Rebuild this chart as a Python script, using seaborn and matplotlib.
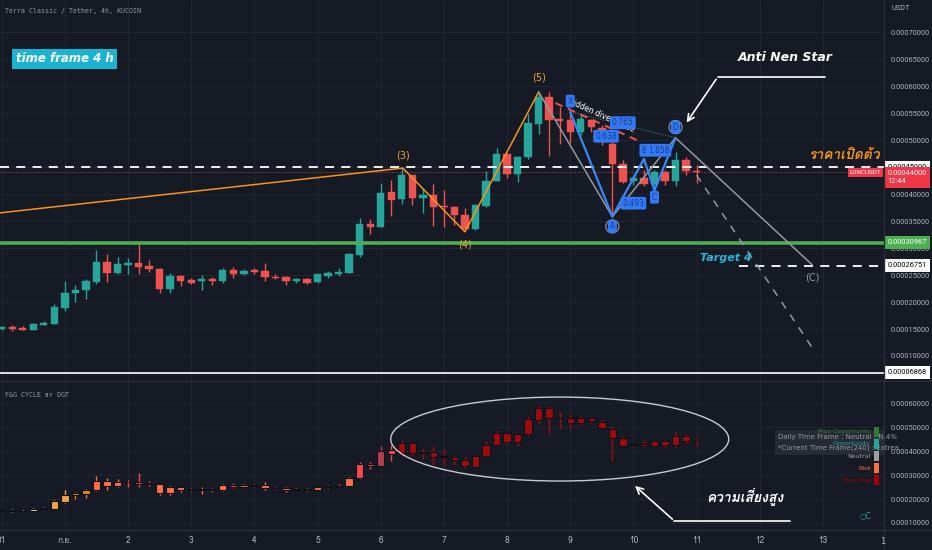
import matplotlib
matplotlib.use("Agg")
import numpy as np
import matplotlib.pyplot as plt
from matplotlib import font_manager
from matplotlib.ft2font import FT2Font
from matplotlib.patches import Ellipse, Rectangle
from matplotlib.lines import Line2D
import seaborn as sns

# 4h candles LUNC/USDT, prices in 1e-5 USDT (31 Aug .. 11 Sep)
opens = [15.0, 15.4, 15.2, 14.9, 15.8, 16.0, 18.9, 21.6, 22.2, 23.7,
         27.5, 25.4, 26.9, 27.3, 26.6, 26.2, 22.5, 24.9, 24.0, 23.8,
         24.3, 23.9, 25.9, 25.1, 25.9, 25.7, 24.7, 24.6, 23.8, 24.3,
         23.7, 24.9, 25.2, 25.4, 28.7, 34.4, 33.9, 40.4, 39.0, 43.5,
         39.2, 39.8, 37.8, 37.65, 36.2, 33.5, 37.8, 42.5, 47.4, 43.7,
         46.9, 53.0, 57.9, 53.8, 53.7, 51.5, 53.7, 52.2, 49.3, 45.6,
         42.4, 42.9, 41.9, 44.1, 42.5, 46.3, 44.3]
highs = [15.6, 15.7, 15.6, 16.1, 16.5, 19.6, 23.8, 23.1, 24.3, 29.6,
         28.9, 28.4, 28.1, 30.7, 27.7, 26.3, 25.4, 25.0, 24.5, 25.0,
         24.7, 26.3, 26.5, 26.1, 26.3, 27.2, 25.2, 24.9, 24.5, 24.4,
         25.2, 25.8, 26.3, 29.1, 35.6, 35.4, 42.0, 42.6, 44.8, 43.6,
         41.1, 41.9, 40.7, 37.8, 37.5, 38.1, 44.3, 48.6, 47.5, 47.0,
         54.8, 58.9, 58.9, 56.2, 55.6, 54.6, 53.9, 52.8, 50.6, 46.3,
         43.5, 44.4, 44.4, 44.4, 47.8, 46.9, 45.4]
lows = [14.8, 14.6, 14.8, 14.8, 15.7, 15.9, 18.4, 20.0, 20.6, 23.3,
        23.7, 25.1, 25.1, 25.2, 25.6, 21.6, 21.7, 23.0, 23.3, 22.2,
        23.1, 23.5, 24.5, 25.0, 25.2, 23.8, 24.2, 23.1, 23.6, 23.4,
        23.6, 24.4, 24.9, 25.3, 28.4, 32.6, 33.8, 35.9, 38.1, 38.0,
        36.5, 34.1, 33.9, 34.3, 33.1, 33.4, 37.6, 42.4, 42.9, 42.3,
        46.4, 51.2, 47.0, 49.3, 49.4, 50.9, 51.5, 49.1, 35.8, 42.0,
        41.7, 41.5, 41.7, 41.7, 41.5, 43.5, 42.0]
closes = [15.4, 14.95, 14.9, 15.9, 16.1, 19.1, 21.7, 22.3, 23.9, 27.5,
          25.4, 27.0, 27.3, 26.4, 26.05, 22.5, 24.9, 23.8, 23.6, 24.2,
          23.9, 25.9, 25.2, 25.8, 25.5, 24.6, 24.4, 23.8, 24.3, 23.6,
          25.1, 25.4, 25.6, 28.8, 34.4, 33.9, 40.2, 38.9, 43.5, 39.3,
          39.8, 37.6, 37.6, 36.1, 33.6, 38.0, 42.5, 47.4, 43.7, 46.9,
          53.2, 57.9, 53.7, 53.6, 51.5, 53.8, 52.4, 49.7, 45.6, 42.3,
          42.9, 41.9, 44.1, 42.5, 46.3, 44.3, 44.0]

# F&G cycle zone of each candle (lower pane)
zones = (["pale"] * 5 + ["orange", "orange", "dorange", "dorange"]
         + ["coral"] * 3 + ["red"] * 3 + ["coral"] * 3
         + ["dorange", "coral", "red", "coral", "red", "coral", "dred",
            "coral", "red", "coral", "coral", "coral", "coral", "red",
            "red", "coral", "red", "red", "dred", "red"]
         + ["maxrisk"] * 29)
zone_colors = {"pale": "#f3d3b0", "orange": "#f7a23e", "dorange": "#d98a1c",
               "coral": "#ff7043", "red": "#f5474f", "dred": "#b5404a",
               "maxrisk": "#9c0c0c"}

day_labels = ["31", "ก.ย.", "2", "3", "4", "5", "6", "7", "8", "9",
              "10", "11", "12", "13"]
main_ticks = [10, 15, 20, 25, 30, 35, 40, 45, 50, 55, 60, 65, 70]
sub_ticks = [10, 20, 30, 40, 50, 60]

# horizontal levels (1e-5 USDT)
open_level = 45.0
last_price = 44.0
support = 30.967
target = 26.751
bottom_line = 6.868

# elliott wave (3)-(4)-(5)
wave_x = [-0.2, 38.1, 44.0, 51.0]
wave_y = [36.5, 44.8, 33.0, 58.9]
# harmonic X A B C D
harm_names = ["X", "A", "B", "C", "D"]
harm_x = [54, 58, 61, 62, 64]
harm_y = [55.2, 35.8, 46.5, 40.7, 50.4]
# grey projection (5) -> A -> D -> (C)
proj_x = [51, 58, 64, 77]
proj_y = [58.9, 35.8, 50.4, 26.85]

bg = "#161a25"
sns.set_theme(style="dark", rc={"axes.facecolor": bg, "figure.facecolor": bg,
                                "axes.edgecolor": bg, "text.color": "#b2b5be",
                                "xtick.color": "#b2b5be", "ytick.color": "#b2b5be"})


def find_thai():
    for f in font_manager.fontManager.ttflist:
        try:
            if 0x0E01 in FT2Font(f.fname).get_charmap():
                return f.name
        except Exception:
            pass
    return "DejaVu Sans"


thai = [find_thai(), "DejaVu Sans"]
narrow = "Roboto"
fs_axis = 5.3
plt.rcParams["font.family"] = ["DejaVu Sans"]

W, H = 932, 550
fig = plt.figure(figsize=(W / 100, H / 100), dpi=100)
ax = fig.add_axes([0, 1 - 381 / H, 884 / W, 381 / H])
ax2 = fig.add_axes([0, 20 / H, 884 / W, 149 / H], sharex=ax)


def px(x, y):
    return x / W, 1 - y / H


def draw_candles(a, body, wick, edge, ew):
    x = np.arange(len(opens))
    o = np.array(opens) * 1e-5
    c = np.array(closes) * 1e-5
    a.vlines(x, np.array(lows) * 1e-5, np.array(highs) * 1e-5, colors=wick, lw=1, zorder=3)
    a.bar(x, np.maximum(np.abs(c - o), 0.25e-5), bottom=np.minimum(o, c), width=0.7,
          color=body, edgecolor=edge, lw=ew, zorder=4)


up = np.array(closes) >= np.array(opens)
main_col = ["#26a69a" if u else "#ef5350" for u in up]
draw_candles(ax, main_col, main_col, main_col, 0.3)
sub_col = [zone_colors[z] for z in zones]
draw_candles(ax2, sub_col, sub_col, "#0e1017", 0.8)

for a in (ax, ax2):
    a.grid(True, color="#222633", lw=0.7)
    a.set_axisbelow(True)
    a.yaxis.tick_right()
    a.tick_params(axis="y", length=0, pad=5, labelsize=fs_axis, labelcolor="#b2b5be")
    for s in a.spines.values():
        s.set_visible(False)

ax.set_xlim(-0.16, 83.8)
ax.set_ylim(5.37e-5, 75.93e-5)
ax2.set_ylim(7.08e-5, 69.2e-5)
ax.set_yticks([v * 1e-5 for v in main_ticks])
ax.set_yticklabels([f"{v * 1e-5:.8f}" for v in main_ticks], family=narrow)
ax2.set_yticks([v * 1e-5 for v in sub_ticks])
ax2.set_yticklabels([f"{v * 1e-5:.8f}" for v in sub_ticks], family=narrow)
ax2.set_xticks(range(0, 6 * len(day_labels), 6))
ax2.set_xticklabels(day_labels, family=thai)
ax2.tick_params(axis="x", length=0, pad=4, labelsize=6, labelcolor="#b2b5be")
ax.tick_params(axis="x", length=0, labelbottom=False)

# levels
ax.axhline(open_level * 1e-5, color="white", lw=1.3, ls=(0, (5, 4)), zorder=5)
ax.axhline(last_price * 1e-5, color="#ef5350", lw=0.7, ls=":", alpha=0.7, zorder=2)
ax.axhline(support * 1e-5, color="#4caf50", lw=2.6, zorder=5)
ax.hlines(target * 1e-5, 70, 84, color="white", lw=1.3, ls=(0, (5, 4)), zorder=5)
ax.axhline(bottom_line * 1e-5, color="white", lw=1.2, zorder=5)

# elliott wave
sns.lineplot(x=wave_x, y=np.array(wave_y) * 1e-5, sort=False, estimator=None,
             color="#f7931a", lw=1.1, ax=ax, zorder=6)
for lab, xi, yi in [("(3)", 38.1, 47.2), ("(4)", 44.0, 30.7), ("(5)", 51.0, 61.6)]:
    ax.text(xi, yi * 1e-5, lab, color="#f0a030", fontsize=7, ha="center", va="center", zorder=8)

# harmonic pattern
sns.lineplot(x=proj_x, y=np.array(proj_y) * 1e-5, sort=False, estimator=None,
             color="#9598a1", lw=1.1, ax=ax, zorder=6)
ax.plot([66, 77], [43.5e-5, 11.5e-5], color="#9598a1", lw=1.1, ls=(0, (5, 5)), zorder=6)
sns.lineplot(x=harm_x, y=np.array(harm_y) * 1e-5, sort=False, estimator=None,
             color="#3a86f5", lw=1.6, ax=ax, zorder=7)
ax.plot([harm_x[0], harm_x[4]], [harm_y[0] * 1e-5, harm_y[4] * 1e-5],
        color="#26a69a", lw=0.7, ls=":", zorder=6)
ax.plot([52.6, 60.3], [56.85e-5, 50.0e-5], color="#ef5350", lw=1.4, ls=(0, (4, 3)), zorder=7)
ax.text(57.0, 54.6e-5, "hidden divergence", color="white", fontsize=5.5, rotation=-24,
        ha="center", va="center", zorder=9)
ax.scatter([58, 64], [34.0e-5, 52.4e-5], s=90, facecolors="none", edgecolors="#9598a1",
           lw=0.8, zorder=8)
box = dict(boxstyle="round,pad=0.25", fc="#3179f5", ec="none")
for lab, xi, yi in zip(harm_names, harm_x, [57.2, 34.0, 48.1, 39.4, 52.4]):
    ax.text(xi, yi * 1e-5, lab, color="#1c3d8f", fontsize=5.5, ha="center", va="center",
            bbox=box, zorder=9)
for lab, xi, yi in [("0.765", 59.0, 53.2), ("0.638", 57.4, 50.7),
                    ("1.858", 62.4, 48.1), ("0.493", 60.0, 38.3)]:
    ax.text(xi, yi * 1e-5, lab, color="#1c3d8f", fontsize=5.5, ha="center", va="center",
            bbox=box, zorder=9)

# annotations
ax.text(74.4, 65.2e-5, "Anti Nen Star", color="white", fontsize=9, fontweight="bold",
        style="italic", ha="center", va="center", zorder=9)
ax.plot([78.2, 68.0], [61.67e-5, 61.67e-5], color="white", lw=1.2, zorder=8)
ax.annotate("", xy=(64.9, 52.8e-5), xytext=(68.0, 61.67e-5),
            arrowprops=dict(arrowstyle="->", color="white", lw=1.2), zorder=8)
ax.text(83.4, 47.1e-5, "ราคาเปิดตัว", color="#f7931a", fontsize=10, fontweight="bold",
        style="italic", ha="right", va="center", family=thai, zorder=9)
ax.text(66.3, 28.1e-5, "Target 4", color="#29b6d8", fontsize=8, fontweight="bold",
        style="italic", ha="left", va="center", zorder=9)
ax.text(77.0, 24.6e-5, "(C)", color="#9598a1", fontsize=7, ha="center", va="center", zorder=9)

# price tags on the right scale
tr = ax.get_yaxis_transform()
tag = dict(transform=tr, ha="left", va="center", fontsize=fs_axis, family=narrow,
           clip_on=False, zorder=10)
ax.text(1.004, open_level * 1e-5, f"{open_level * 1e-5:.8f}", color="black",
        bbox=dict(boxstyle="square,pad=0.4", fc="white", ec="none"), **tag)
ax.text(1.004, support * 1e-5, f"{support * 1e-5:.8f}", color="white",
        bbox=dict(boxstyle="square,pad=0.4", fc="#4caf50", ec="none"), **tag)
ax.text(1.004, target * 1e-5, f"{target * 1e-5:.8f}", color="black",
        bbox=dict(boxstyle="square,pad=0.4", fc="white", ec="none"), **tag)
ax.text(1.004, bottom_line * 1e-5, f"{bottom_line * 1e-5:.8f}", color="black",
        bbox=dict(boxstyle="square,pad=0.4", fc="white", ec="none"), **tag)
ax.text(1.004, last_price * 1e-5 + 0.45e-5, f"{last_price * 1e-5:.8f}\n12:44", color="white",
        transform=tr, ha="left", va="top", fontsize=fs_axis, family=narrow, clip_on=False,
        zorder=10, linespacing=1.2,
        bbox=dict(boxstyle="square,pad=0.4", fc="#f23645", ec="none"))
ax.text(0.997, last_price * 1e-5, "LUNCUSDT", color="white", transform=tr, ha="right",
        va="center", fontsize=4.6, family=narrow, zorder=10,
        bbox=dict(boxstyle="square,pad=0.3", fc="#f23645", ec="none"))

# lower pane
ax2.add_patch(Ellipse((53.0, 45.0e-5), 32.1, 35e-5, fill=False, ec="#c8cad0", lw=1, zorder=6))
ax2.plot([74.9, 63.9], [10.83e-5, 10.83e-5], color="white", lw=1.2, zorder=8)
ax2.annotate("", xy=(59.95, 26.25e-5), xytext=(63.9, 10.83e-5),
             arrowprops=dict(arrowstyle="->", color="white", lw=1.2), zorder=8)
ax2.text(70.6, 20.8e-5, "ความเสี่ยงสูง", color="white", fontsize=10, fontweight="bold",
         style="italic", ha="center", va="center", family=thai, zorder=9)

# figure level texts
fig.text(*px(5, 11), "Terra Classic / Tether, 4h, KUCOIN", color="#9598a1", fontsize=4.8,
         family="DejaVu Sans Mono", va="center")
fig.text(*px(16, 59), "time frame 4 h", color="white", fontsize=8.5, fontweight="bold",
         style="italic", va="center",
         bbox=dict(boxstyle="square,pad=0.3", fc="#18b4d4", ec="none"))
fig.text(*px(891, 9), "USDT", color="#b2b5be", fontsize=fs_axis, family=narrow, va="center")
fig.text(*px(5, 395), "F&G CYCLE ʙʏ DGT", color="#9598a1", fontsize=4.8,
         family=["DejaVu Sans Mono", "DejaVu Sans"], va="center")
fig.text(*px(883, 541), "1", color="#b2b5be", fontsize=6, ha="center", va="center")
fig.patches.append(Rectangle(px(775, 455), 109 / W, 25 / H, transform=fig.transFigure,
                             fc="#2a2e39", ec="none", alpha=0.85, zorder=5))
fig.text(*px(778, 437), "Daily Time Frame : Neutral : N.4%", color="#9598a1", fontsize=5,
         va="center", zorder=6)
fig.text(*px(778, 448), "*Current Time Frame(240) : Extrea", color="#9598a1", fontsize=5,
         va="center", zorder=6)
legend = [("Max Opportunity", "#2e7d32"), ("Opportunity", "#26a69a"),
          ("Neutral", "#9e9e9e"), ("Risk", "#ff7043"), ("Max Risk", "#a00000")]
for i, (name, col) in enumerate(legend):
    yy = 432 + i * 12
    fig.text(*px(871, yy), name, color=col, fontsize=4.5, ha="right", va="center", zorder=7)
    fig.patches.append(Rectangle(px(874, yy + 5), 5 / W, 10 / H, transform=fig.transFigure,
                                 fc=col, ec="none", zorder=7))
fig.text(*px(865, 516), "○C", color="#26a69a", fontsize=5.5, ha="center", va="center")

# pane separators
fig.add_artist(Line2D([0, 1], [1 - 381 / H] * 2, color="#2a2e39", lw=1))
fig.add_artist(Line2D([0, 1], [20 / H] * 2, color="#2a2e39", lw=1))
fig.add_artist(Line2D([884 / W] * 2, [0, 1], color="#2a2e39", lw=1))

fig.savefig("out.png", dpi=100, facecolor=bg)
